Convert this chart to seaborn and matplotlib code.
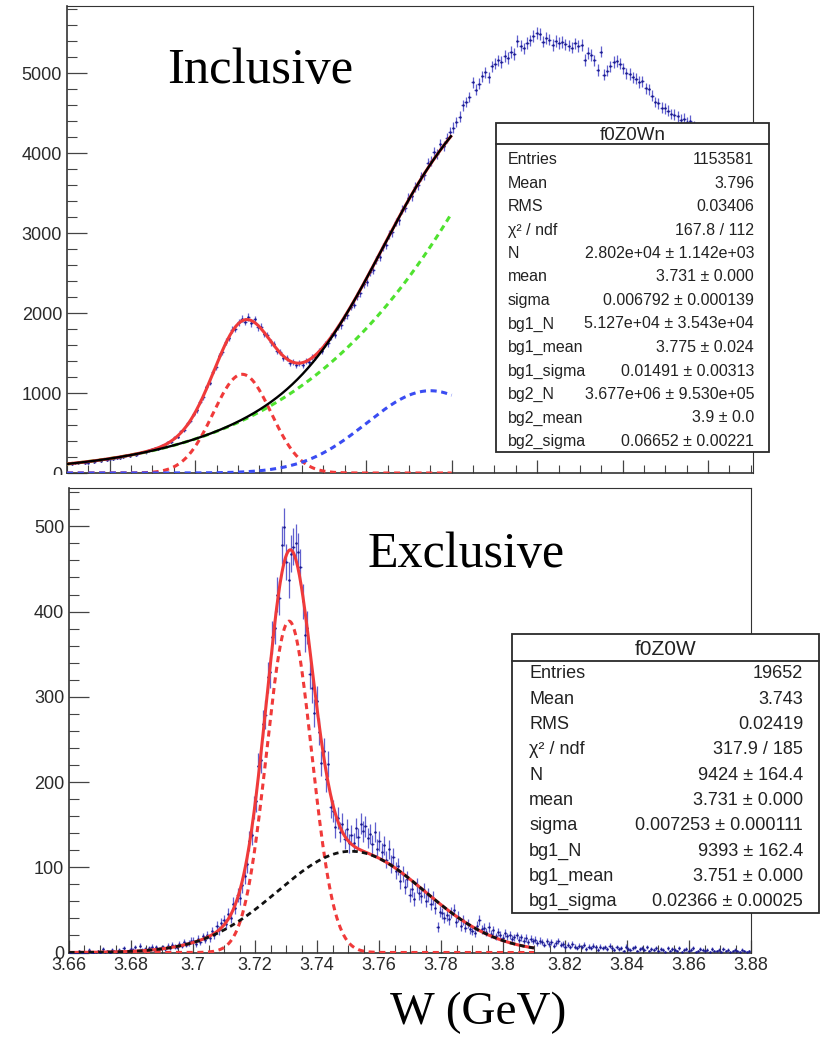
import numpy as np
import matplotlib
matplotlib.use("Agg")
import matplotlib.pyplot as plt
import seaborn as sns
from matplotlib.ticker import MultipleLocator, FuncFormatter
from matplotlib.patches import Rectangle
from matplotlib.lines import Line2D

sns.set_theme(style="white")
plt.rcParams["font.family"] = ["Liberation Sans", "DejaVu Sans"]

BIN_W = 0.00075  # GeV per bin

# ---------------- inclusive sample (f0Z0Wn) ----------------
incl_x0 = 3.69
incl_counts = [
    121, 108, 125, 119, 134, 128, 131, 146, 139, 158,
    152, 170, 163, 181, 176, 193, 188, 206, 221, 216,
    236, 231, 249, 262, 258, 284, 297,
    309, 305, 341, 347, 386, 392, 441, 455, 519, 538, 617, 648, 741,
    782, 893, 948, 1072, 1131, 1268, 1329, 1461, 1517, 1642, 1688, 1790, 1806, 1885,
    1932, 1889, 1951, 1874, 1925, 1822, 1831, 1739, 1724, 1633, 1612, 1528, 1517,
    1441, 1436, 1371, 1392, 1348, 1381, 1354, 1402, 1389, 1451, 1447, 1523, 1531,
    1611, 1622, 1708, 1731, 1826, 1849, 1941, 1972, 2078, 2103, 2214, 2248, 2361,
    2391, 2512, 2541, 2668, 2697, 2826, 2851, 2983, 3012, 3139, 3162, 3291, 3318, 3437,
    3459, 3578, 3596, 3709, 3721, 3880, 3905, 4010, 3990, 4110, 4090, 4190, 4260,
    4320, 4390, 4455, 4598, 4640, 4702, 4885, 4790, 4870, 4960, 5010, 4950, 5085,
    5120, 5160, 5140, 5215, 5190, 5262, 5240, 5405, 5345, 5310, 5380, 5410, 5470, 5505,
    5488, 5395, 5440, 5420, 5352, 5400, 5375, 5392, 5360, 5345, 5320, 5372, 5340, 5352,
    5165, 5250, 5228, 5160, 5040, 5270, 4980, 5030, 5085, 5140, 5150, 5120, 5060,
    5000, 4990, 4950, 4930, 4890, 4900, 4810, 4800, 4720, 4640, 4625, 4570, 4560,
    4530, 4490, 4480, 4460, 4420, 4430, 4390, 4405, 4340, 4310, 4290, 4260, 4230, 4190,
    4170, 4130, 4110, 4060, 4040, 4000, 3970, 3950, 3900, 3880, 3850, 3810, 3790,
]
incl_fit_range = (3.69, 3.78)
incl_summary = [("Entries", "1153581"), ("Mean", "3.796"), ("RMS", "0.03406"),
                ("χ² / ndf", "167.8 / 112")]
# name, value, error, value format, error format
incl_params = [
    ("N", 2.802e4, 1.142e3, ".3e", ".3e"),
    ("mean", 3.731, 0.000, ".3f", ".3f"),
    ("sigma", 0.006792, 0.000139, ".6f", ".6f"),
    ("bg1_N", 5.127e4, 3.543e4, ".3e", ".3e"),
    ("bg1_mean", 3.775, 0.024, ".3f", ".3f"),
    ("bg1_sigma", 0.01491, 0.00313, ".5f", ".5f"),
    ("bg2_N", 3.677e6, 9.530e5, ".3e", ".3e"),
    ("bg2_mean", 3.9, 0.0, ".1f", ".1f"),
    ("bg2_sigma", 0.06652, 0.00221, ".5f", ".5f"),
]

# ---------------- exclusive sample (f0Z0W) ----------------
excl_x0 = 3.66
excl_counts = [
    0, 1, 0, 0, 2, 0, 1, 0, 3, 1, 0, 1, 2, 0, 4, 1, 2, 0, 3, 2,
    1, 3, 2, 5, 1, 2, 4, 3, 6, 2, 8, 3, 4, 2, 5, 7, 3, 6, 4, 5,
    6, 4, 8, 5, 9, 7, 6, 10, 8, 12, 9, 11, 14,
    14, 10, 16, 12, 19, 15, 21, 17, 25, 20, 31, 26, 35,
    38, 33, 45, 41, 57, 52, 68, 64, 79, 90, 104, 131, 138,
    170, 178, 219, 226, 268, 279, 323, 329, 370, 381, 420, 416, 478,
    499, 458, 437, 468, 476, 481, 470, 452,
    412, 372, 381, 327, 310, 281, 295, 259, 222, 236, 203, 221, 171, 166, 147, 158,
    141, 151, 133, 145, 128,
    138, 129, 146, 135, 151, 142, 148, 134, 139, 127, 141, 122, 131,
    118, 126, 109, 121, 104, 112, 96, 101, 84, 92, 77, 86, 68,
    74, 63, 79, 70, 66, 73, 61, 68, 57, 64, 52, 30, 48,
    46, 41, 44, 39, 47, 50, 36, 42, 31, 38, 29, 34, 27,
    25, 23, 31, 38, 27, 29, 24, 30, 22, 26, 19, 24, 21, 17,
    23, 19, 21, 16, 18, 20, 15, 18, 14, 17, 12, 16, 13,
    15, 11, 14, 12, 9, 13, 10, 12, 8, 11, 13, 9, 10, 7,
    9, 6, 10, 7, 5, 8, 6, 9, 4, 7, 5, 8, 6, 3, 7, 5, 6, 4, 8, 5,
    3, 6, 4, 5, 2, 7, 4, 3, 5, 6, 2, 4, 5, 3, 6, 2, 4, 3, 5, 2,
    4, 3, 1, 5, 2, 4, 3, 2, 5, 1, 3, 4, 2, 3, 5, 1, 2, 4, 3, 2,
    3, 1, 4, 2, 2, 3, 1, 4, 2, 3, 1, 2, 3, 2, 1, 3, 2, 1, 2,
]
excl_fit_range = (3.66, 3.81)
excl_summary = [("Entries", "19652"), ("Mean", "3.743"), ("RMS", "0.02419"),
                ("χ² / ndf", "317.9 / 185")]
excl_params = [
    ("N", 9424, 164.4, ".0f", ".1f"),
    ("mean", 3.731, 0.000, ".3f", ".3f"),
    ("sigma", 0.007253, 0.000111, ".6f", ".6f"),
    ("bg1_N", 9393, 162.4, ".0f", ".1f"),
    ("bg1_mean", 3.751, 0.000, ".3f", ".3f"),
    ("bg1_sigma", 0.02366, 0.00025, ".5f", ".5f"),
]

# ---------------- styling ----------------
W, H = 821, 1038
DATA_BLUE = "#3838c2"
RED = "#f03a3a"
GREEN = "#4fe22f"
BLUE = "#3a4cf2"
INK = "#222222"
SERIF = ["Liberation Serif", "DejaVu Serif"]


def fx(px):
    return px / W


def fy(py):
    return 1 - py / H


def gauss(x, n, mu, s):
    return n * BIN_W / (np.sqrt(2 * np.pi) * s) * np.exp(-0.5 * ((x - mu) / s) ** 2)


def pvals(params):
    return {name: val for name, val, *_ in params}


def draw_hist(ax, x0, counts):
    y = np.asarray(counts, dtype=float)
    x = x0 + BIN_W * (np.arange(len(y)) + 0.5)
    ax.errorbar(x, y, yerr=np.sqrt(y), xerr=BIN_W / 2, fmt="none",
                ecolor=DATA_BLUE, elinewidth=0.9, alpha=0.8, zorder=2)
    sns.scatterplot(x=x, y=y, ax=ax, s=3, color="#1a1a8c", linewidth=0, zorder=3)


def draw_curve(ax, xs, ys, color, lw, dashed=False, z=4):
    sns.lineplot(x=xs, y=ys, ax=ax, color=color, linewidth=lw,
                 estimator=None, sort=False, zorder=z)
    line = ax.lines[-1]
    if dashed:
        line.set_dashes([2.0, 1.5])
    line.set_solid_capstyle("butt")


def style_axes(ax, xmaj, xmin, ymaj, ymin, show_xlabels):
    ax.set_facecolor("white")
    for side, sp in ax.spines.items():
        sp.set_visible(True)
        sp.set_color("#333333")
        sp.set_linewidth(1.2 if side in ("left", "bottom") else 0.8)
    ax.xaxis.set_major_locator(MultipleLocator(xmaj))
    ax.xaxis.set_minor_locator(MultipleLocator(xmin))
    ax.yaxis.set_major_locator(MultipleLocator(ymaj))
    ax.yaxis.set_minor_locator(MultipleLocator(ymin))
    ax.tick_params(axis="y", which="major", direction="in", length=14.5, width=0.9,
                   color="#444444", labelsize=13, labelcolor="#2a2a2a", pad=3.5,
                   left=True, right=False)
    ax.tick_params(axis="y", which="minor", direction="in", length=7.2, width=0.8,
                   color="#444444", left=True, right=False)
    ax.tick_params(axis="x", which="major", direction="in", length=9.5, width=0.9,
                   color="#444444", labelsize=13, labelcolor="#2a2a2a", pad=3,
                   bottom=True, top=False, labelbottom=show_xlabels)
    ax.tick_params(axis="x", which="minor", direction="in", length=5.5, width=0.8,
                   color="#444444", bottom=True, top=False)
    ax.xaxis.set_major_formatter(
        FuncFormatter(lambda v, p: f"{v:.2f}".rstrip("0").rstrip(".")))
    ax.yaxis.set_major_formatter(FuncFormatter(lambda v, p: f"{v:.0f}"))
    ax.grid(False)


def stats_box(fig, left, right, top, sep, bottom, title, title_size,
              summary, params, row0, row_step, txt_l, txt_r, size):
    fig.add_artist(Rectangle((fx(left), fy(bottom)), (right - left) / W,
                             (bottom - top) / H, transform=fig.transFigure,
                             facecolor="white", edgecolor="#2a2a2a", lw=1.3, zorder=10))
    fig.add_artist(Line2D([fx(left), fx(right)], [fy(sep), fy(sep)],
                          transform=fig.transFigure, color="#2a2a2a", lw=1.3, zorder=11))
    fig.text(fx((left + right) / 2), fy((top + sep) / 2), title, ha="center",
             va="center_baseline", fontsize=title_size, color=INK, zorder=12)
    rows = list(summary) + [
        (name, f"{val:{vf}} ± {err:{ef}}") for name, val, err, vf, ef in params]
    for i, (name, text) in enumerate(rows):
        y = fy(row0 + i * row_step)
        fig.text(fx(txt_l), y, name, ha="left", va="center_baseline",
                 fontsize=size, color=INK, zorder=12)
        fig.text(fx(txt_r), y, text, ha="right", va="center_baseline",
                 fontsize=size, color=INK, zorder=12)


fig = plt.figure(figsize=(W / 100, H / 100), dpi=100, facecolor="white")

# ---------------- inclusive panel ----------------
ax1 = fig.add_axes([fx(67), fy(473), 686 / W, 467 / H])
draw_hist(ax1, incl_x0, incl_counts)
p = pvals(incl_params)
xs = np.linspace(*incl_fit_range, 600)
sig = gauss(xs, p["N"], p["mean"], p["sigma"])
bg1 = gauss(xs, p["bg1_N"], p["bg1_mean"], p["bg1_sigma"])
bg2 = gauss(xs, p["bg2_N"], p["bg2_mean"], p["bg2_sigma"])
draw_curve(ax1, xs, sig, RED, 2.2, dashed=True)
draw_curve(ax1, xs, bg2, GREEN, 2.2, dashed=True)
draw_curve(ax1, xs, bg1, BLUE, 2.2, dashed=True)
draw_curve(ax1, xs, sig + bg1 + bg2, RED, 2.2, z=5)
draw_curve(ax1, xs, bg1 + bg2, "black", 1.7, z=6)
ax1.set_xlim(incl_x0, incl_x0 + BIN_W * len(incl_counts))
ax1.set_ylim(0, 5840)
style_axes(ax1, 0.02, 0.005, 1000, 200, show_xlabels=False)
ax1.set_xlabel("")
ax1.set_ylabel("")

# ---------------- exclusive panel ----------------
ax2 = fig.add_axes([fx(69), fy(952.5), 682 / W, 464.5 / H])
draw_hist(ax2, excl_x0, excl_counts)
q = pvals(excl_params)
xs2 = np.linspace(*excl_fit_range, 800)
sig2 = gauss(xs2, q["N"], q["mean"], q["sigma"])
bgx = gauss(xs2, q["bg1_N"], q["bg1_mean"], q["bg1_sigma"])
draw_curve(ax2, xs2, sig2, RED, 2.2, dashed=True)
draw_curve(ax2, xs2, sig2 + bgx, RED, 2.2, z=5)
draw_curve(ax2, xs2, bgx, "#111111", 2.0, dashed=True, z=6)
ax2.set_xlim(3.66, 3.88)
ax2.set_ylim(0, 545)
style_axes(ax2, 0.02, 0.005, 100, 20, show_xlabels=True)
ax2.set_xlabel("")
ax2.set_ylabel("")

# gap between the two pads trims the lower edge of the upper pad labels
fig.add_artist(Rectangle((0, fy(487)), 1, 11.5 / H, transform=fig.transFigure,
                         facecolor="white", edgecolor="none", zorder=5))

# panel captions and axis title
fig.text(fx(167), fy(83), "Inclusive", family=SERIF, fontsize=36.5,
         ha="left", va="baseline", color="black")
fig.text(fx(368), fy(567), "Exclusive", family=SERIF, fontsize=36,
         ha="left", va="baseline", color="black")
fig.text(fx(478), fy(1024), "W (GeV)", family=SERIF, fontsize=34,
         ha="center", va="baseline", color="black")

# fit statistics boxes
stats_box(fig, 496, 769, 123, 144, 452, "f0Z0Wn", 13.5,
          incl_summary, incl_params, 158, 23.5, 508, 754, 11.5)
stats_box(fig, 512, 819, 634, 661, 913, "f0Z0W", 15,
          excl_summary, excl_params, 672, 25.3, 529, 803, 13)

fig.savefig("out.png", dpi=100, facecolor="white")
